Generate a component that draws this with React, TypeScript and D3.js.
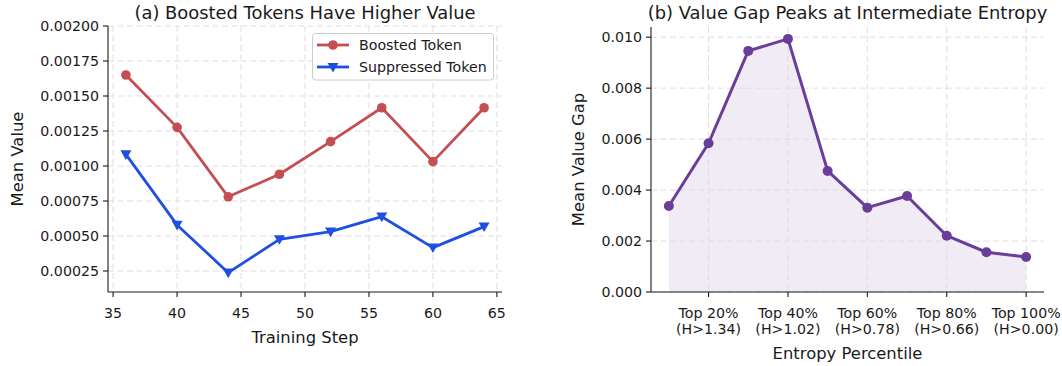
import React from "react";
import * as d3 from "d3";

// Panel (a): mean value per training step
const steps = [36, 40, 44, 48, 52, 56, 60, 64];
const boosted = [0.00165, 0.001276, 0.00078, 0.000941, 0.001174, 0.001416, 0.001031, 0.001416];
const suppressed = [0.001083, 0.000579, 0.000238, 0.000476, 0.000531, 0.000638, 0.000417, 0.000567];
const stepTicks = [35, 40, 45, 50, 55, 60, 65];
const valueTicks = [0.00025, 0.0005, 0.00075, 0.001, 0.00125, 0.0015, 0.00175, 0.002];

// Panel (b): value gap across entropy percentiles (10% buckets)
const percentiles = ["10%", "20%", "30%", "40%", "50%", "60%", "70%", "80%", "90%", "100%"];
const valueGap = [0.003376, 0.005838, 0.009462, 0.009933, 0.004751, 0.00331, 0.00377, 0.00221, 0.00156, 0.001374];
const percentileTickIdx = [1, 3, 5, 7, 9];
const percentileTickLabels = [
  ["Top 20%", "(H>1.34)"],
  ["Top 40%", "(H>1.02)"],
  ["Top 60%", "(H>0.78)"],
  ["Top 80%", "(H>0.66)"],
  ["Top 100%", "(H>0.00)"],
];
const gapTicks = [0, 0.002, 0.004, 0.006, 0.008, 0.01];

const FONT = "'DejaVu Sans', sans-serif";
const TEXT = "#1a1a1a";
const RED = "#c44e52";
const BLUE = "#1f4fe0";
const PURPLE = "#6a3d9a";
const GRID = "#dedede";
const DASH = "6,3.5";
const TICK_FS = 14.2;
const LABEL_FS = 16.4;
const TITLE_FS = 17.9;

function TriangleDown({ cx, cy, r, fill }: { cx: number; cy: number; r: number; fill: string }) {
  const p = d3.path();
  p.moveTo(cx - r, cy - r * 0.75);
  p.lineTo(cx + r, cy - r * 0.75);
  p.lineTo(cx, cy + r);
  p.closePath();
  return <path d={p.toString()} fill={fill} />;
}

export default function App() {
  // ---- panel (a) scales ----
  const ax = { left: 108, right: 502, top: 26, bottom: 292 };
  const xA = d3.scaleLinear().domain([34.6, 65.4]).range([ax.left, ax.right]);
  const yA = d3.scaleLinear().domain([0.0001, 0.002]).range([ax.bottom, ax.top]);
  const lineA = d3
    .line<number>()
    .x((_, i) => xA(steps[i]))
    .y((d) => yA(d));

  // ---- panel (b) scales ----
  const bx = { left: 651, right: 1044, top: 27, bottom: 292 };
  const xB = d3.scaleLinear().domain([-0.45, percentiles.length - 1 + 0.45]).range([bx.left, bx.right]);
  const yB = d3.scaleLinear().domain([0, 0.0104]).range([bx.bottom, bx.top]);
  const lineB = d3
    .line<number>()
    .x((_, i) => xB(i))
    .y((d) => yB(d));
  const areaB = d3
    .area<number>()
    .x((_, i) => xB(i))
    .y0(yB(0))
    .y1((d) => yB(d));

  const fmtA = d3.format(".5f");
  const fmtB = d3.format(".3f");

  return (
    <svg
      width={1062}
      height={366}
      style={{ position: "absolute", left: 0, top: 0, background: "#fff" }}
      fontFamily={FONT}
    >
      <rect width={1062} height={366} fill="#fff" />

      {/* ================= Panel (a) ================= */}
      <g>
        {/* grid */}
        {stepTicks.map((t) => (
          <line key={"gx" + t} x1={xA(t)} x2={xA(t)} y1={ax.top} y2={ax.bottom} stroke={GRID} strokeWidth={1} strokeDasharray={DASH} />
        ))}
        {valueTicks.map((t) => (
          <line key={"gy" + t} x1={ax.left} x2={ax.right} y1={yA(t)} y2={yA(t)} stroke={GRID} strokeWidth={1} strokeDasharray={DASH} />
        ))}

        {/* series */}
        <path d={lineA(boosted) || ""} fill="none" stroke={RED} strokeWidth={2.8} strokeLinejoin="round" />
        {boosted.map((v, i) => (
          <circle key={"b" + i} cx={xA(steps[i])} cy={yA(v)} r={4.8} fill={RED} />
        ))}
        <path d={lineA(suppressed) || ""} fill="none" stroke={BLUE} strokeWidth={2.8} strokeLinejoin="round" />
        {suppressed.map((v, i) => (
          <TriangleDown key={"s" + i} cx={xA(steps[i])} cy={yA(v)} r={5.5} fill={BLUE} />
        ))}

        {/* spines */}
        <line x1={ax.left} x2={ax.left} y1={ax.top} y2={ax.bottom} stroke={TEXT} strokeWidth={1.1} />
        <line x1={ax.left} x2={ax.right} y1={ax.bottom} y2={ax.bottom} stroke={TEXT} strokeWidth={1.1} />

        {/* y ticks */}
        {valueTicks.map((t) => (
          <g key={"yt" + t}>
            <line x1={ax.left - 5} x2={ax.left} y1={yA(t)} y2={yA(t)} stroke={TEXT} strokeWidth={1.1} />
            <text x={ax.left - 9} y={yA(t)} dy="0.35em" textAnchor="end" fontSize={TICK_FS} fill={TEXT}>
              {fmtA(t)}
            </text>
          </g>
        ))}
        {/* x ticks */}
        {stepTicks.map((t) => (
          <g key={"xt" + t}>
            <line x1={xA(t)} x2={xA(t)} y1={ax.bottom} y2={ax.bottom + 5} stroke={TEXT} strokeWidth={1.1} />
            <text x={xA(t)} y={ax.bottom + 21} dy="0.35em" textAnchor="middle" fontSize={TICK_FS} fill={TEXT}>
              {t}
            </text>
          </g>
        ))}

        {/* labels */}
        <text x={(ax.left + ax.right) / 2} y={337} dy="0.35em" textAnchor="middle" fontSize={LABEL_FS} fill={TEXT}>
          Training Step
        </text>
        <text
          transform={`translate(17,${(ax.top + ax.bottom) / 2}) rotate(-90)`}
          dy="0.35em"
          textAnchor="middle"
          fontSize={LABEL_FS}
          fill={TEXT}
        >
          Mean Value
        </text>
        <text x={(ax.left + ax.right) / 2} y={13} dy="0.35em" textAnchor="middle" fontSize={TITLE_FS} fill={TEXT}>
          (a) Boosted Tokens Have Higher Value
        </text>

        {/* legend */}
        <g>
          <rect x={312.5} y={33.5} width={181} height={46.5} rx={3} fill="#fff" fillOpacity={0.85} stroke="#cccccc" strokeWidth={1} />
          <line x1={317} x2={349} y1={45} y2={45} stroke={RED} strokeWidth={2.8} />
          <circle cx={333} cy={45} r={4.8} fill={RED} />
          <text x={359} y={45} dy="0.35em" fontSize={TICK_FS} fill={TEXT}>
            Boosted Token
          </text>
          <line x1={317} x2={349} y1={67} y2={67} stroke={BLUE} strokeWidth={2.8} />
          <TriangleDown cx={333} cy={67} r={5.5} fill={BLUE} />
          <text x={359} y={67} dy="0.35em" fontSize={TICK_FS} fill={TEXT}>
            Suppressed Token
          </text>
        </g>
      </g>

      {/* ================= Panel (b) ================= */}
      <g>
        {/* fill under the curve */}
        <path d={areaB(valueGap) || ""} fill={PURPLE} fillOpacity={0.1} stroke="none" />

        {/* grid */}
        {percentileTickIdx.map((t) => (
          <line key={"gbx" + t} x1={xB(t)} x2={xB(t)} y1={bx.top} y2={bx.bottom} stroke={GRID} strokeWidth={1} strokeDasharray={DASH} />
        ))}
        {gapTicks.map((t) => (
          <line key={"gby" + t} x1={bx.left} x2={bx.right} y1={yB(t)} y2={yB(t)} stroke={GRID} strokeWidth={1} strokeDasharray={DASH} />
        ))}

        {/* series */}
        <path d={lineB(valueGap) || ""} fill="none" stroke={PURPLE} strokeWidth={3} strokeLinejoin="round" />
        {valueGap.map((v, i) => (
          <circle key={"g" + i} cx={xB(i)} cy={yB(v)} r={5} fill={PURPLE} />
        ))}

        {/* spines */}
        <line x1={bx.left} x2={bx.left} y1={bx.top} y2={bx.bottom} stroke={TEXT} strokeWidth={1.1} />
        <line x1={bx.left} x2={bx.right} y1={bx.bottom} y2={bx.bottom} stroke={TEXT} strokeWidth={1.1} />

        {/* y ticks */}
        {gapTicks.map((t) => (
          <g key={"ybt" + t}>
            <line x1={bx.left - 5} x2={bx.left} y1={yB(t)} y2={yB(t)} stroke={TEXT} strokeWidth={1.1} />
            <text x={bx.left - 9} y={yB(t)} dy="0.35em" textAnchor="end" fontSize={TICK_FS} fill={TEXT}>
              {fmtB(t)}
            </text>
          </g>
        ))}
        {/* x ticks */}
        {percentileTickIdx.map((t, k) => (
          <g key={"xbt" + t}>
            <line x1={xB(t)} x2={xB(t)} y1={bx.bottom} y2={bx.bottom + 5} stroke={TEXT} strokeWidth={1.1} />
            <text x={xB(t)} y={313} dy="0.35em" textAnchor="middle" fontSize={TICK_FS} fill={TEXT}>
              {percentileTickLabels[k][0]}
            </text>
            <text x={xB(t)} y={329.5} dy="0.35em" textAnchor="middle" fontSize={TICK_FS} fill={TEXT}>
              {percentileTickLabels[k][1]}
            </text>
          </g>
        ))}

        {/* labels */}
        <text x={(bx.left + bx.right) / 2} y={353} dy="0.35em" textAnchor="middle" fontSize={LABEL_FS} fill={TEXT}>
          Entropy Percentile
        </text>
        <text
          transform={`translate(578,${(bx.top + bx.bottom) / 2}) rotate(-90)`}
          dy="0.35em"
          textAnchor="middle"
          fontSize={LABEL_FS}
          fill={TEXT}
        >
          Mean Value Gap
        </text>
        <text x={(bx.left + bx.right) / 2} y={13} dy="0.35em" textAnchor="middle" fontSize={TITLE_FS} fill={TEXT}>
          (b) Value Gap Peaks at Intermediate Entropy
        </text>
      </g>
    </svg>
  );
}
